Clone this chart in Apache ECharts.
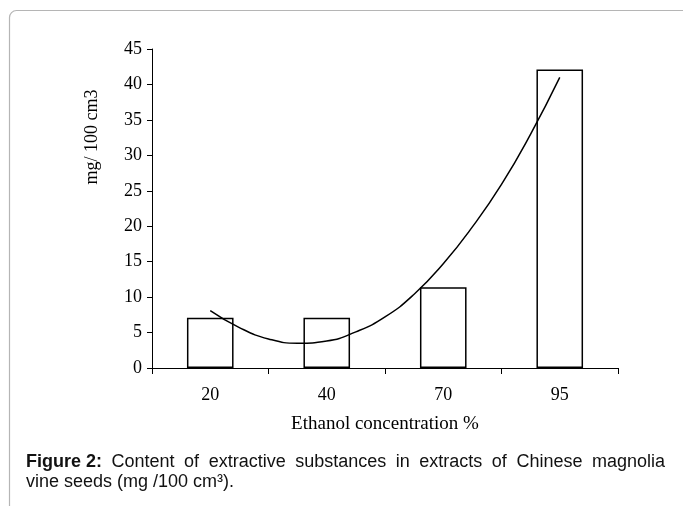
<!DOCTYPE html>
<html>
<head>
<meta charset="utf-8">
<script src="https://cdn.jsdelivr.net/npm/echarts@6/dist/echarts.min.js"></script>
<style>
html,body{margin:0;padding:0;background:#fff;}
#chart{width:683px;height:506px;}
</style>
</head>
<body>
<div id="chart"></div>
<script>
// Data
const categories = ['20', '40', '70', '95'];
const barValues = [7.1, 7.1, 11.4, 42.1];
// Trend curve at quarter-category positions (1 = first category)
const curveX = [1, 1.25, 1.5, 1.75, 2, 2.25, 2.5, 2.75, 3, 3.25, 3.5, 3.75, 4];
const curveY = [8.1, 5.7, 4.1, 3.5, 3.8, 5.1, 7.2, 10.4, 14.7, 19.9, 25.9, 33.0, 41.0];
const yTicks = [0, 5, 10, 15, 20, 25, 30, 35, 40, 45];
const xTitle = 'Ethanol concentration %';
const yTitle = 'mg/ 100 cm3';
const captionBold = 'Figure 2:';
const captionLine1 = 'Content of extractive substances in extracts of Chinese magnolia';
const captionLine2 = 'vine seeds (mg /100 cm³).';

const chart = echarts.init(document.getElementById('chart'), null, {renderer: 'canvas'});
const serif = '"Liberation Serif", "Times New Roman", serif';
const sans = '"Liberation Sans", Arial, sans-serif';
const capSize = 18;

// Justify caption line 1 between x=26 and x=665
const ctx = document.createElement('canvas').getContext('2d');
const words = [{t: captionBold, b: true}].concat(captionLine1.split(' ').map(w => ({t: w, b: false})));
let total = 0;
words.forEach(w => {
  ctx.font = (w.b ? 'bold ' : '') + capSize + 'px ' + sans;
  w.w = ctx.measureText(w.t).width;
  total += w.w;
});
const x0 = 26, x1 = 665;
const gap = (x1 - x0 - total) / (words.length - 1);
let cx = x0;
const capGraphics = [];
words.forEach(w => {
  capGraphics.push({
    type: 'text', x: cx, y: 462, silent: true,
    style: {text: w.t, fontFamily: sans, fontSize: capSize, fontWeight: w.b ? 'bold' : 'normal',
            fill: '#111', align: 'left', verticalAlign: 'middle'}
  });
  cx += w.w + gap;
});
capGraphics.push({
  type: 'text', x: x0, y: 482, silent: true,
  style: {text: captionLine2, fontFamily: sans, fontSize: capSize, fill: '#111', align: 'left', verticalAlign: 'middle'}
});

chart.setOption({
  animation: false,
  backgroundColor: '#fff',
  grid: {left: 152, right: 65, top: 49, bottom: 138, containLabel: false},
  xAxis: [{
    type: 'category',
    data: categories,
    boundaryGap: true,
    axisLine: {lineStyle: {color: '#000', width: 1}},
    axisTick: {show: true, length: 6, lineStyle: {color: '#000'}},
    axisLabel: {color: '#000', fontFamily: serif, fontSize: 18, margin: 18},
    name: xTitle,
    nameLocation: 'middle',
    nameGap: 47,
    nameTextStyle: {color: '#000', fontFamily: serif, fontSize: 19},
    splitLine: {show: false}
  }, {
    type: 'value',
    min: 0.5,
    max: 4.5,
    show: false
  }],
  yAxis: {
    type: 'value',
    min: yTicks[0],
    max: yTicks[yTicks.length - 1],
    interval: 5,
    axisLine: {show: true, lineStyle: {color: '#000', width: 1}},
    axisTick: {show: true, length: 5, lineStyle: {color: '#000'}},
    axisLabel: {color: '#000', fontFamily: serif, fontSize: 18, margin: 10},
    splitLine: {show: false}
  },
  series: [{
    type: 'bar',
    data: barValues,
    barWidth: '40%',
    itemStyle: {color: '#fff', borderColor: '#000', borderWidth: 1.5},
    silent: true
  }, {
    type: 'line',
    xAxisIndex: 1,
    data: curveX.map((x, i) => [x, curveY[i]]),
    smooth: true,
    showSymbol: false,
    lineStyle: {color: '#000', width: 1.5},
    silent: true
  }],
  graphic: [{
    type: 'rect',
    shape: {x: 9.5, y: 10.5, width: 720, height: 620, r: 7},
    style: {fill: 'none', stroke: '#b5b5b5', lineWidth: 1.2},
    silent: true
  }, {
    type: 'text',
    x: 92, y: 137, rotation: Math.PI / 2, silent: true,
    style: {text: yTitle, fontFamily: serif, fontSize: 18, fill: '#000', align: 'center', verticalAlign: 'middle'}
  }].concat(capGraphics)
});
</script>
</body>
</html>
